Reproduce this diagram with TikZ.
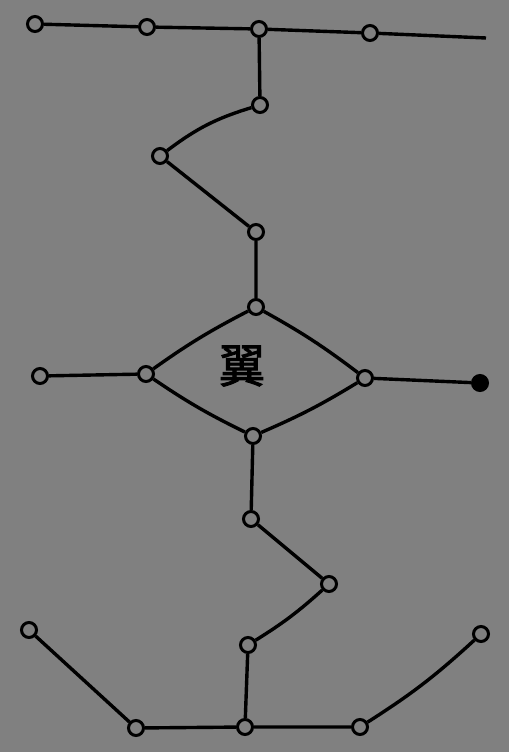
\documentclass[tikz,border=0pt]{standalone}
\usepackage{fontspec}
\newfontfamily\cjk[FakeBold=2]{Noto Sans CJK SC}
\begin{document}
\begin{tikzpicture}[x=1pt,y=-1pt,
  dot/.style={circle,draw=black,fill=gray50,line width=3pt,minimum size=15pt,inner sep=0pt},
  edge/.style={draw=black,line width=3.4pt}]
\definecolor{gray50}{HTML}{808080}
\fill[gray50] (0,0) rectangle (509,752);
\useasboundingbox (0,0) rectangle (509,752);
% top row
\node[dot] (a1) at (35,24) {};
\node[dot] (a2) at (147,27) {};
\node[dot] (a3) at (259,29) {};
\node[dot] (a4) at (370,33) {};
\coordinate (a5) at (486,38);
% chain
\node[dot] (b) at (260,105) {};
\node[dot] (c) at (160,156) {};
\node[dot] (d) at (256,232) {};
\node[dot] (t) at (256,307) {};
\node[dot] (l) at (146,374) {};
\node[dot] (r) at (365,378) {};
\node[dot] (bt) at (253,436) {};
\node[dot] (ll) at (40,376) {};
\node[dot,fill=black] (rr) at (480,383) {};
\node[dot] (e) at (251,519) {};
\node[dot] (f) at (329,584) {};
\node[dot] (g) at (248,645) {};
\node[dot] (h) at (245,727) {};
\node[dot] (i) at (136,728) {};
\node[dot] (j) at (360,727) {};
\node[dot] (k) at (29,630) {};
\node[dot] (m) at (481,634) {};
\node[font=\cjk\fontsize{46}{46}\selectfont] (w) at (242,366) {翼};
% edges
\path[edge] (a1) -- (a2) (a2) -- (a3) (a3) -- (a4) (a4) -- (a5);
\path[edge] (a3) -- (b);
\path[edge] (b) to[bend right=10] (c);
\path[edge] (c) -- (d) (d) -- (t);
\path[edge] (t) to[bend right=4] (l);
\path[edge] (t) to[bend left=4] (r);
\path[edge] (l) to[bend right=4] (bt);
\path[edge] (r) to[bend left=4] (bt);
\path[edge] (ll) -- (l) (r) -- (rr);
\path[edge] (bt) -- (e) (e) -- (f);
\path[edge] (f) to[bend left=5] (g);
\path[edge] (g) -- (h) (i) -- (h) (h) -- (j) (k) -- (i);
\path[edge] (j) to[bend right=5] (m);
\end{tikzpicture}
\end{document}
